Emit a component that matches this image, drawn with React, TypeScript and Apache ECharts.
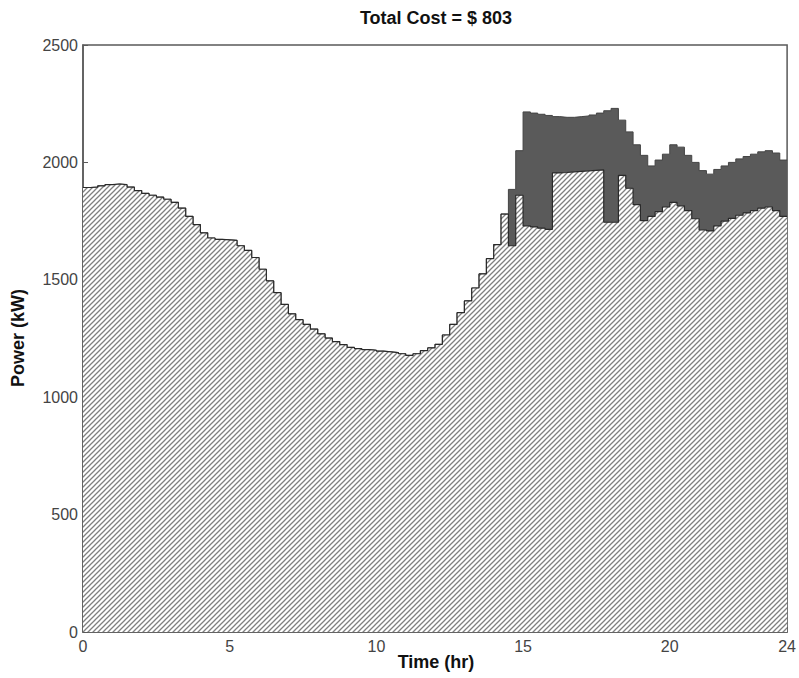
import React, { useEffect, useRef } from 'react';
import * as echarts from 'echarts';

// Time resolution of the load profile (hours per step)
const TIME_STEP_HR = 0.25;
const END_HR = 24;

// Base (hatched) load, kW, one value per 15-minute step from 0:00 to 23:45
const BASE_LOAD = [
  1893, 1895, 1900, 1905, 1908, 1905, 1895, 1880, 1868, 1860, 1852, 1843, 1830, 1805, 1770, 1735,
  1700, 1678, 1672, 1670, 1668, 1645, 1625, 1595, 1545, 1495, 1445, 1395, 1355, 1330, 1310, 1290,
  1270, 1252, 1237, 1224, 1212, 1207, 1203, 1200, 1196, 1193, 1190, 1185, 1178, 1185, 1198, 1210,
  1225, 1265, 1310, 1360, 1410, 1465, 1525, 1590, 1650, 1780, 1645, 1860, 1730, 1725, 1720, 1715,
  1955, 1957, 1960, 1962, 1964, 1966, 1968, 1745, 1745, 1945, 1890, 1820, 1752, 1770, 1790, 1810,
  1830, 1815, 1795, 1760, 1712, 1708, 1730, 1750, 1762, 1775, 1785, 1795, 1805, 1810, 1795, 1770,
];

// Additional (dark) charging load, kW, stacked on the base from 14:30 to 23:45
const EV_START_HR = 14.5;
const EV_LOAD = [
  240, 190, 485, 485, 485, 485,
  240, 235, 232, 233, 234, 236, 242, 475,
  485, 235, 240, 255, 278, 215, 220, 225,
  245, 250, 235, 240, 253, 242, 240, 235,
  238, 240, 240, 240, 240, 240, 245, 240,
];

const TITLE = 'Total Cost = $ 803';
const X_NAME = 'Time (hr)';
const Y_NAME = 'Power (kW)';

function makeHatch(): HTMLCanvasElement {
  const s = 5;
  const c = document.createElement('canvas');
  c.width = s;
  c.height = s;
  const ctx = c.getContext('2d')!;
  ctx.fillStyle = '#ffffff';
  ctx.fillRect(0, 0, s, s);
  ctx.strokeStyle = '#808080';
  ctx.lineWidth = 1.3;
  ctx.beginPath();
  ctx.moveTo(-1, s + 1);
  ctx.lineTo(s + 1, -1);
  ctx.moveTo(-1, 1);
  ctx.lineTo(1, -1);
  ctx.moveTo(s - 1, s + 1);
  ctx.lineTo(s + 1, s - 1);
  ctx.stroke();
  return c;
}

export default function App() {
  const ref = useRef<HTMLDivElement>(null);

  useEffect(() => {
    document.body.style.margin = '0';
    if (!ref.current) return;
    const chart = echarts.init(ref.current, undefined, { renderer: 'svg' });

    const evStartIdx = Math.round(EV_START_HR / TIME_STEP_HR);
    const basePts: number[][] = BASE_LOAD.map((v, i) => [i * TIME_STEP_HR, v]);
    basePts.push([END_HR, BASE_LOAD[BASE_LOAD.length - 1]]);
    const totalVals = BASE_LOAD.map((v, i) => {
      const j = i - evStartIdx;
      return j >= 0 && j < EV_LOAD.length ? v + EV_LOAD[j] : v;
    });
    const totalPts: number[][] = totalVals.map((v, i) => [i * TIME_STEP_HR, v]);
    totalPts.push([END_HR, totalVals[totalVals.length - 1]]);

    const hatch = makeHatch();
    const font = '"Liberation Sans", Arial, sans-serif';
    const plain = (v: number) => String(v);

    chart.setOption({
      animation: false,
      backgroundColor: '#ffffff',
      grid: {
        left: 83,
        right: 11,
        top: 45,
        bottom: 46,
        show: true,
        borderColor: '#5a5a5a',
        borderWidth: 1.5,
        containLabel: false,
      },
      xAxis: {
        type: 'value',
        min: 0,
        max: END_HR,
        interval: 5,
        axisLine: { show: true, lineStyle: { color: '#5a5a5a', width: 1.5 } },
        axisTick: { show: true, inside: true, length: 5, lineStyle: { color: '#5a5a5a' } },
        axisLabel: { color: '#444', fontSize: 16, fontFamily: font, margin: 6, formatter: plain },
        splitLine: { show: false },
      },
      yAxis: {
        type: 'value',
        min: 0,
        max: 2500,
        interval: 500,
        axisLine: { show: true, lineStyle: { color: '#5a5a5a', width: 1.5 } },
        axisTick: { show: true, inside: true, length: 5, lineStyle: { color: '#5a5a5a' } },
        axisLabel: { color: '#444', fontSize: 16, fontFamily: font, margin: 5, formatter: plain },
        splitLine: { show: false },
      },
      series: [
        {
          type: 'line',
          step: 'end',
          data: totalPts,
          symbol: 'none',
          z: 2,
          lineStyle: { color: '#444', width: 1 },
          areaStyle: { color: '#5a5a5a', opacity: 1 },
        },
        {
          type: 'line',
          step: 'end',
          data: basePts,
          symbol: 'none',
          z: 3,
          lineStyle: { color: '#2a2a2a', width: 1.2 },
          areaStyle: {
            color: { image: hatch, repeat: 'repeat', imageWidth: 5, imageHeight: 5 },
            opacity: 1,
          },
        },
      ],
      graphic: [
        {
          type: 'text',
          x: 436,
          y: 18,
          style: {
            text: TITLE,
            font: 'bold 18px ' + font,
            fill: '#111',
            align: 'center',
            verticalAlign: 'middle',
          },
        },
        {
          type: 'text',
          x: 436,
          y: 662,
          style: {
            text: X_NAME,
            font: 'bold 18px ' + font,
            fill: '#111',
            align: 'center',
            verticalAlign: 'middle',
          },
        },
        {
          type: 'text',
          x: 18,
          y: 338,
          rotation: Math.PI / 2,
          style: {
            text: Y_NAME,
            font: 'bold 18px ' + font,
            fill: '#111',
            align: 'center',
            verticalAlign: 'middle',
          },
        },
      ],
    });

    return () => chart.dispose();
  }, []);

  return <div ref={ref} style={{ width: 799, height: 678 }} />;
}
